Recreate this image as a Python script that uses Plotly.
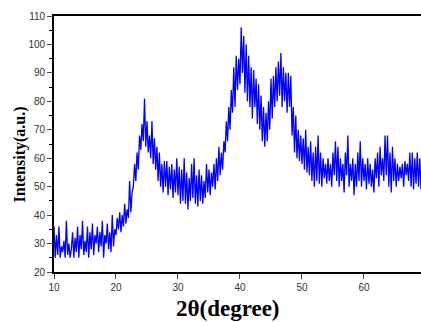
import plotly.graph_objects as go

# 2-theta values (step 0.2 degree) and intensities
two_theta = [round(10 + 0.2 * i, 1) for i in range(297)]

intensity = [
    36, 25, 33, 26, 36, 25, 29, 27, 31, 25,   # 10.0-11.8
    38, 26, 30, 25, 28, 34, 25, 32, 27, 36,   # 12.0-13.8
    25, 33, 28, 38, 26, 31, 27, 36, 25, 34,   # 14.0-15.8
    28, 37, 26, 33, 30, 36, 27, 34, 29, 38,   # 16.0-17.8
    25, 33, 30, 37, 28, 34, 27, 40, 29, 35,   # 18.0-19.8
    33, 39, 35, 41, 34, 40, 36, 44, 37, 42,   # 20.0-21.8
    39, 52, 41, 48, 50, 58, 52, 62, 56, 68,   # 22.0-23.8
    63, 72, 66, 81, 64, 73, 62, 68, 60, 73,   # 24.0-25.8
    58, 67, 56, 64, 52, 62, 50, 58, 48, 59,   # 26.0-27.8
    50, 59, 47, 57, 49, 58, 46, 56, 48, 60,   # 28.0-29.8
    47, 57, 44, 56, 45, 60, 44, 55, 42, 53,   # 30.0-31.8
    45, 58, 46, 60, 44, 54, 43, 56, 45, 54,   # 32.0-33.8
    44, 52, 46, 58, 48, 56, 47, 55, 50, 58,   # 34.0-35.8
    49, 60, 52, 64, 54, 62, 56, 66, 62, 73,   # 36.0-37.8
    66, 78, 70, 84, 76, 92, 78, 96, 84, 95,   # 38.0-39.8
    86, 106, 90, 103, 83, 100, 80, 96, 78, 92,  # 40.0-41.8
    74, 91, 78, 88, 72, 86, 70, 82, 66, 78,   # 42.0-43.8
    64, 76, 66, 80, 70, 88, 74, 89, 78, 92,   # 44.0-45.8
    80, 94, 82, 97, 78, 92, 80, 90, 76, 90,   # 46.0-47.8
    78, 89, 68, 78, 62, 75, 60, 70, 59, 68,   # 48.0-49.8
    58, 67, 56, 70, 55, 64, 54, 66, 52, 62,   # 50.0-51.8
    50, 64, 52, 68, 51, 62, 50, 60, 53, 58,   # 52.0-53.8
    51, 60, 52, 58, 50, 62, 54, 66, 52, 64,   # 54.0-55.8
    50, 60, 52, 58, 48, 62, 54, 68, 50, 58,   # 56.0-57.8
    52, 60, 47, 58, 50, 62, 52, 66, 50, 60,   # 58.0-59.8
    52, 58, 49, 60, 51, 58, 50, 56, 48, 60,   # 60.0-61.8
    53, 62, 50, 64, 54, 60, 52, 68, 54, 68,   # 62.0-63.8
    50, 62, 48, 64, 52, 60, 50, 58, 52, 57,   # 64.0-65.8
    53, 58, 50, 59, 54, 58, 52, 62, 50, 62,   # 66.0-67.8
    49, 60, 51, 62, 50, 60, 49,               # 68.0-69.2
]

x_ticks = [10, 20, 30, 40, 50, 60]
y_ticks = [20, 30, 40, 50, 60, 70, 80, 90, 100, 110]

fig = go.Figure()
fig.add_trace(go.Scatter(
    x=two_theta, y=intensity, mode="lines",
    line=dict(color="#0000FF", width=1.3),
    showlegend=False, hoverinfo="skip",
))

tick_font = dict(family="Arial, Liberation Sans, sans-serif", size=10, color="#333333")

fig.update_layout(
    width=421, height=322,
    margin=dict(l=54, r=0, t=16, b=50),
    paper_bgcolor="white", plot_bgcolor="white",
    xaxis=dict(
        range=[10, 69.2], tickvals=x_ticks, ticks="outside", ticklen=5, tickwidth=1.2,
        showline=True, linecolor="black", linewidth=1.6, mirror=True,
        showgrid=False, zeroline=False, tickfont=tick_font, automargin=False,
    ),
    yaxis=dict(
        range=[20, 110], tickvals=y_ticks, ticks="outside", ticklen=5, tickwidth=1.2,
        showline=True, linecolor="black", linewidth=1.6,
        showgrid=False, zeroline=False, tickfont=tick_font, automargin=False,
        minor=dict(dtick=5, tick0=20, ticks="outside", ticklen=3, tickwidth=1, tickcolor="black"),
    ),
    annotations=[
        dict(text="<b>2θ(degree)</b>", xref="paper", yref="paper", x=0.474, y=-0.142,
             xanchor="center", yanchor="middle", showarrow=False,
             font=dict(family="Liberation Serif, Times New Roman, serif", size=23, color="black")),
        dict(text="<b>Intensity(a.u.)</b>", xref="paper", yref="paper", x=-0.092, y=0.46,
             xanchor="center", yanchor="middle", showarrow=False, textangle=-90,
             font=dict(family="Liberation Serif, Times New Roman, serif", size=16, color="black")),
    ],
)

fig.write_html(
    "out.html",
    config={"displayModeBar": False},
    post_script="document.body.style.margin='0';document.body.style.overflow='hidden';",
)
